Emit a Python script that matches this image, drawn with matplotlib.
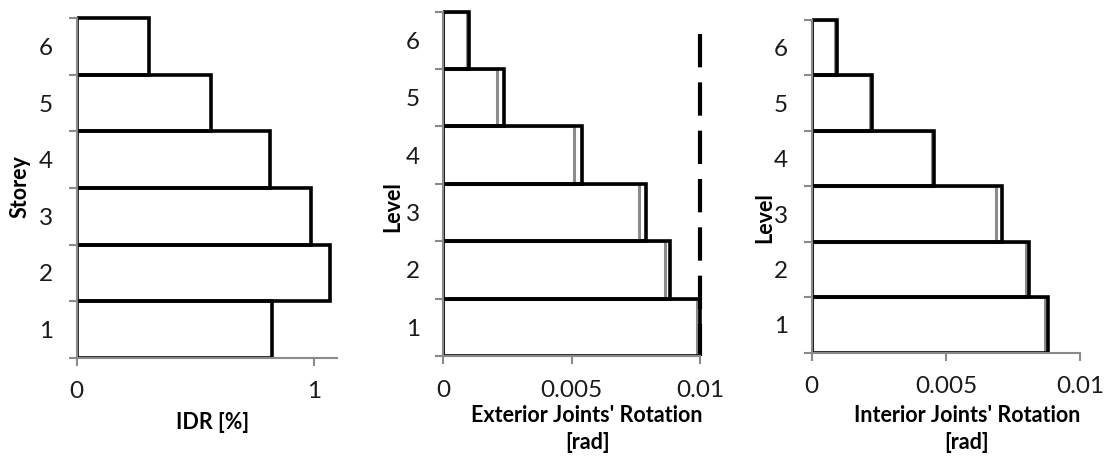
import matplotlib
matplotlib.use("Agg")
import matplotlib.pyplot as plt
from matplotlib.transforms import Bbox, TransformedBbox
import numpy as np

plt.rcParams['font.family'] = ['Lato', 'DejaVu Sans']

# ---- data ----
levels = [1, 2, 3, 4, 5, 6]
level_labels = ["1", "2", "3", "4", "5", "6"]

idr = [0.824, 1.07, 0.99, 0.817, 0.566, 0.305]

ext_black = [0.0100, 0.00883, 0.0079, 0.0054, 0.00238, 0.0010]
ext_gray = [0.0099, 0.00862, 0.00761, 0.00508, 0.00208, 0.00091]
ext_limit_x = 0.01
ext_limit_y = [5.62, 0.0]

int_black = [0.00879, 0.0081, 0.00709, 0.00456, 0.00226, 0.00093]
int_gray = [0.0087, 0.00799, 0.00688, 0.00448, 0.00218, 0.00088]

AX_GRAY = "#8a8a8a"
SER_GRAY = "#8c8c8c"
TICK_FS = 17.5
LAB_FS = 15.5

fig = plt.figure(figsize=(11.07, 4.59), dpi=100)

ax1 = fig.add_axes([0.0693, 0.2207, 0.2354, 0.7394])
ax2 = fig.add_axes([0.4005, 0.2244, 0.2319, 0.7501])
ax3 = fig.add_axes([0.7333, 0.2316, 0.2424, 0.7248])


def draw_bars(ax, vals, color, lw, z):
    bars = ax.barh(np.array(levels) - 0.5, vals, height=1.0, left=0,
                   fill=False, edgecolor=color, linewidth=lw, zorder=z)
    clip = TransformedBbox(Bbox([[0, 0], [1.1, 1.05]]), ax.transAxes)
    for b in bars:
        b.set_clip_box(clip)
        b.set_clip_on(True)
    return bars


def style_axes(ax, xlim, xticks, xticklabels):
    ax.set_xlim(*xlim)
    ax.set_ylim(0, 6)
    for s in ['top', 'right']:
        ax.spines[s].set_visible(False)
    for s in ['left', 'bottom']:
        ax.spines[s].set_color(AX_GRAY)
        ax.spines[s].set_linewidth(1.5)
        ax.spines[s].set_zorder(10)
    ax.set_yticks(range(0, 7))
    ax.set_yticklabels([])
    ax.set_yticks(np.array(levels) - 0.5, minor=True)
    ax.set_yticklabels(level_labels, minor=True)
    ax.tick_params(axis='y', which='major', direction='out', length=6,
                   width=1.5, color=AX_GRAY)
    ax.tick_params(axis='y', which='minor', length=0, pad=17,
                   labelsize=TICK_FS, labelcolor='#1a1a1a')
    ax.set_xticks(xticks)
    ax.set_xticklabels(xticklabels)
    ax.tick_params(axis='x', direction='out', length=6, width=1.5,
                   color=AX_GRAY, pad=11, labelsize=TICK_FS,
                   labelcolor='#1a1a1a')
    ax.set_facecolor('none')


# Panel 1
draw_bars(ax1, idr, 'black', 2.6, 3)
style_axes(ax1, (0, 1.1), [0, 1], ["0", "1"])
ax1.set_xlabel("IDR [%]", fontsize=LAB_FS, fontweight='bold')
ax1.xaxis.set_label_coords(0.523, -0.192)
ax1.xaxis.label.set_va('center')
ax1.set_ylabel("Storey", fontsize=LAB_FS, fontweight='bold')
ax1.yaxis.set_label_coords(-0.2176, 0.503)
ax1.yaxis.label.set_va('center')

# Panel 2
draw_bars(ax2, ext_gray, SER_GRAY, 2.2, 2)
draw_bars(ax2, ext_black, 'black', 2.6, 3)
ax2.plot([ext_limit_x, ext_limit_x], ext_limit_y, color='black', lw=3.0,
         dashes=(8.0, 3.6), dash_capstyle='butt', zorder=4, clip_on=False)
style_axes(ax2, (0, 0.01), [0, 0.005, 0.01], ["0", "0.005", "0.01"])
ax2.set_xlabel("Exterior Joints' Rotation\n[rad]", fontsize=LAB_FS,
               fontweight='bold', linespacing=1.35)
ax2.xaxis.set_label_coords(0.56, -0.212)
ax2.xaxis.label.set_va('center')
ax2.set_ylabel("Level", fontsize=LAB_FS, fontweight='bold')
ax2.yaxis.set_label_coords(-0.196, 0.433)
ax2.yaxis.label.set_va('center')

# Panel 3
draw_bars(ax3, int_gray, SER_GRAY, 2.2, 2)
draw_bars(ax3, int_black, 'black', 2.6, 3)
style_axes(ax3, (0, 0.01), [0, 0.005, 0.01], ["0", "0.005", "0.01"])
ax3.set_xlabel("Interior Joints' Rotation\n[rad]", fontsize=LAB_FS,
               fontweight='bold', linespacing=1.35)
ax3.xaxis.set_label_coords(0.578, -0.229)
ax3.xaxis.label.set_va('center')
ax3.set_ylabel("Level", fontsize=LAB_FS, fontweight='bold')
ax3.yaxis.set_label_coords(-0.174, 0.405)
ax3.yaxis.label.set_va('center')

fig.savefig("out.png", dpi=100, facecolor='white')
